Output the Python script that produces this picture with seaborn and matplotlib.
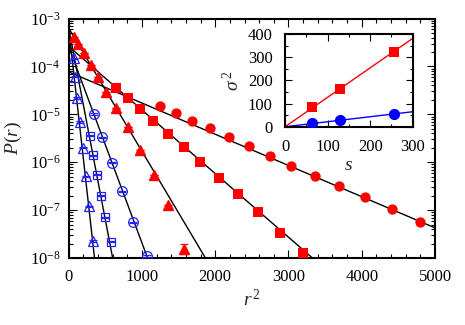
import numpy as np
import pandas as pd
import seaborn as sns
import matplotlib
matplotlib.use("Agg")
import matplotlib.pyplot as plt
from matplotlib.ticker import LogLocator, MultipleLocator, LogFormatterSciNotation, NullFormatter

sns.set_style("ticks")
plt.rcParams['font.family'] = ['Liberation Serif', 'DejaVu Serif']
plt.rcParams['mathtext.fontset'] = 'custom'
plt.rcParams['mathtext.rm'] = 'Liberation Serif'
plt.rcParams['mathtext.it'] = 'Liberation Serif:italic'

# main panel data: r^2 and P(r)
red_circ_r2 = [1253, 1467, 1689, 1930, 2184, 2456, 2743, 3038, 3365, 3692, 4046, 4414, 4796]
red_circ_P = [1.486e-5, 1.076e-5, 7.29e-6, 5.20e-6, 3.37e-6, 2.15e-6, 1.37e-6, 8.43e-7,
              5.04e-7, 3.21e-7, 1.88e-7, 1.05e-7, 5.79e-8]
red_sq_r2 = [650, 808, 971, 1154, 1353, 1571, 1798, 2053, 2316, 2589, 2888, 3202]
red_sq_P = [3.50e-5, 2.16e-5, 1.29e-5, 7.29e-6, 3.97e-6, 2.09e-6, 1.02e-6, 4.74e-7,
            2.21e-7, 9.25e-8, 3.32e-8, 1.29e-8]
red_tri_r2 = [78, 132, 204, 300, 395, 508, 644, 813, 967, 1162, 1353, 1571]
red_tri_P = [4.13e-4, 2.94e-4, 1.91e-4, 1.08e-4, 6.14e-5, 2.97e-5, 1.37e-5, 5.46e-6,
             1.77e-6, 5.46e-7, 1.30e-7, 1.58e-8]
red_tri_err = [0, 0, 0, 0, 0, 0, 0, 0, 0, 0, 0, 0.37e-8]

blue_circ_r2 = [343, 456, 586, 726, 881, 1067]
blue_circ_P = [1.02e-5, 3.32e-6, 9.75e-7, 2.47e-7, 5.62e-8, 1.10e-8]
blue_sq_r2 = [293, 337, 386, 440, 495, 572]
blue_sq_P = [3.57e-6, 1.39e-6, 5.46e-7, 2.01e-7, 7.03e-8, 2.20e-8]
blue_tri_r2 = [71, 86, 116, 153, 191, 232, 282, 331]
blue_tri_P = [1.48e-4, 6.14e-5, 2.19e-5, 6.95e-6, 2.03e-6, 5.04e-7, 1.20e-7, 2.28e-8]
blue_rel_err = 0.03

# exponential fits P = A exp(-r^2 / L)
fit_A = [7.71e-5, 2.63e-4, 6.31e-4, 2.59e-4, 6.31e-4, 6.31e-4]
fit_L = [666.7, 327.0, 168.9, 106.0, 54.3, 31.9]

# inset: sigma^2 vs s
inset_s = [64, 128, 256]
inset_red = [86, 164, 324]
inset_blue = [17, 30, 53.5]
inset_red_slope = 1.27
inset_blue_slope = 0.216

RED = '#ff0000'
BLUE = '#2020ff'

fig = plt.figure(figsize=(4.65, 3.25), dpi=100)
ax = fig.add_axes([0.1477, 0.206, 0.7878, 0.737])

xx = np.linspace(0, 5000, 2001)
for A, L in zip(fit_A, fit_L):
    line = pd.DataFrame({'r2': xx, 'P': A * np.exp(-xx / L)})
    sns.lineplot(data=line, x='r2', y='P', ax=ax, color='black', lw=1.0, zorder=2)

sns.scatterplot(x=red_circ_r2, y=red_circ_P, ax=ax, marker='o', s=55, color=RED,
                edgecolor=RED, linewidth=0, zorder=3)
sns.scatterplot(x=red_sq_r2, y=red_sq_P, ax=ax, marker='s', s=48, color=RED,
                edgecolor=RED, linewidth=0, zorder=3)
ax.errorbar(red_tri_r2, red_tri_P, yerr=red_tri_err, fmt='^', ms=7, color=RED,
            mec=RED, capsize=3, elinewidth=0.9, capthick=0.9, zorder=3)

for xs, ys, m in [(blue_circ_r2, blue_circ_P, 'o'), (blue_sq_r2, blue_sq_P, 's'),
                  (blue_tri_r2, blue_tri_P, '^')]:
    ys = np.array(ys)
    ax.errorbar(xs, ys, yerr=ys * blue_rel_err, fmt=m, ms=7 if m != 's' else 6.2,
                mfc='none', mec=BLUE, mew=0.9, color=BLUE, ecolor=BLUE,
                capsize=3.0, elinewidth=0.9, capthick=0.9, zorder=3)

ax.set_yscale('log')
ax.set_xlim(0, 5000)
ax.set_ylim(1e-8, 1e-3)
ax.xaxis.set_major_locator(MultipleLocator(1000))
ax.xaxis.set_minor_locator(MultipleLocator(200))
ax.yaxis.set_major_locator(LogLocator(base=10, numticks=10))
ax.yaxis.set_minor_locator(LogLocator(base=10, subs=np.arange(2, 10), numticks=20))
ax.yaxis.set_major_formatter(LogFormatterSciNotation())
ax.yaxis.set_minor_formatter(NullFormatter())
ax.tick_params(which='both', direction='in', top=True, right=True, labelsize=12,
               width=0.8, colors='black')
ax.tick_params(which='major', length=6, pad=6)
ax.tick_params(axis='x', which='major', pad=8)
ax.tick_params(which='minor', length=3)
for sp in ax.spines.values():
    sp.set_linewidth(1.5)
    sp.set_color('black')
ax.set_xlabel(r'$r^{\,2}$', fontsize=14, labelpad=3)
ax.set_ylabel(r'$P(r)$', fontsize=14, labelpad=4)

# inset
ins = fig.add_axes([0.613, 0.610, 0.2745, 0.2854])
ss = np.linspace(0, 300, 50)
sns.lineplot(x=ss, y=inset_red_slope * ss, ax=ins, color=RED, lw=1.0)
sns.lineplot(x=ss, y=inset_blue_slope * ss, ax=ins, color='#0000ff', lw=1.0)
sns.scatterplot(x=inset_s, y=inset_red, ax=ins, marker='s', s=60, color=RED,
                edgecolor=RED, linewidth=0, zorder=3)
sns.scatterplot(x=inset_s, y=inset_blue, ax=ins, marker='o', s=65, color='#0000ff',
                edgecolor='#0000ff', linewidth=0, zorder=3)
ins.set_xlim(0, 300)
ins.set_ylim(0, 400)
ins.xaxis.set_major_locator(MultipleLocator(100))
ins.xaxis.set_minor_locator(MultipleLocator(50))
ins.yaxis.set_major_locator(MultipleLocator(100))
ins.yaxis.set_minor_locator(MultipleLocator(50))
ins.tick_params(which='both', direction='in', top=True, right=True, labelsize=12,
                width=0.8, colors='black')
ins.tick_params(which='major', length=5, pad=9)
ins.tick_params(which='minor', length=2.5)
for sp in ins.spines.values():
    sp.set_linewidth(1.5)
    sp.set_color('black')
ins.set_xlabel(r'$s$', fontsize=14, labelpad=1)
ins.set_ylabel(r'$\sigma^{\,2}$', fontsize=14, labelpad=3)

fig.savefig('out.png', dpi=100)
